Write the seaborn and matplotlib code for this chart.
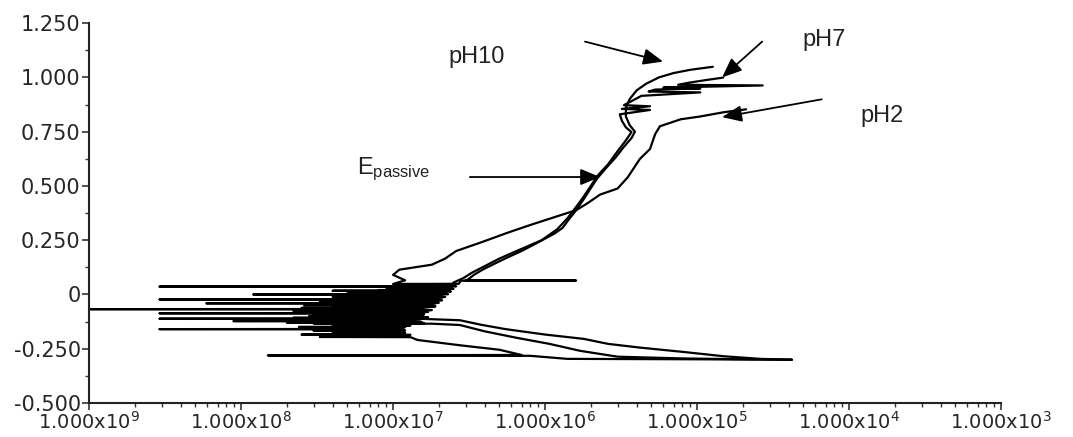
import pandas as pd
import seaborn as sns
import matplotlib.pyplot as plt
from matplotlib.ticker import LogLocator, NullFormatter, MultipleLocator

# potential (V) and current (A), in scan order (cathodic -> anodic)
# the short out-and-back spikes are the noisy points near the corrosion potential
ph10_E = [-0.301, -0.297, -0.285, -0.265, -0.245, -0.228, -0.205, -0.185, -0.160, -0.140, -0.119,
          -0.113, -0.112, -0.111, -0.105, -0.104, -0.103, -0.097, -0.096, -0.095,
          -0.088, -0.087, -0.086, -0.080, -0.079, -0.078, -0.072, -0.071, -0.070,
          -0.063, -0.062, -0.061, -0.055, -0.054, -0.053, -0.047, -0.046, -0.045,
          -0.038, -0.037, -0.036, -0.029, -0.028, -0.027, -0.020, -0.019, -0.018,
          -0.011, -0.010, -0.009, -0.001, 0.000, 0.001, 0.011, 0.012, 0.013,
          0.023, 0.024, 0.025, 0.035, 0.036, 0.037, 0.047, 0.048, 0.049,
          0.063, 0.064, 0.065, 0.068,
          0.090, 0.115, 0.140, 0.169, 0.200, 0.240, 0.280, 0.306, 0.350, 0.388, 0.440, 0.490,
          0.534, 0.580, 0.630, 0.680, 0.720, 0.750, 0.780, 0.820, 0.860, 0.900, 0.940, 0.970,
          1.000, 1.020, 1.035, 1.049]
ph10_I = [4.2e-5, 2.6e-5, 1.5e-5, 8.1e-6, 4.2e-6, 2.6e-6, 1.8e-6, 1.0e-6, 5.5e-7, 3.8e-7, 2.75e-7,
          1.6e-7, 2.9e-9, 1.5e-7, 1.7e-7, 4.0e-8, 1.3e-7, 1.5e-7, 3.0e-8, 1.4e-7,
          1.2e-7, 2.9e-9, 1.6e-7, 1.4e-7, 3.5e-8, 1.2e-7, 1.8e-7, 5.0e-8, 1.5e-7,
          1.3e-7, 2.5e-8, 1.6e-7, 1.9e-7, 4.0e-8, 1.4e-7, 1.7e-7, 3.0e-8, 1.8e-7,
          2.0e-7, 6.0e-8, 1.5e-7, 1.9e-7, 3.5e-8, 2.1e-7, 1.6e-7, 5.0e-8, 2.0e-7,
          2.2e-7, 4.0e-8, 1.8e-7, 2.1e-7, 7.0e-8, 2.3e-7, 2.0e-7, 5.0e-8, 2.4e-7,
          2.2e-7, 9.0e-8, 2.5e-7, 2.3e-7, 2.9e-9, 2.6e-7, 2.4e-7, 1.1e-7, 2.7e-7,
          2.8e-7, 1.6e-6, 3.0e-7, 3.1e-7,
          3.4e-7, 3.9e-7, 4.6e-7, 5.6e-7, 7.0e-7, 9.0e-7, 1.15e-6, 1.3e-6, 1.45e-6, 1.6e-6, 1.8e-6, 2.0e-6,
          2.2e-6, 2.5e-6, 2.9e-6, 3.3e-6, 3.7e-6, 3.9e-6, 3.6e-6, 3.4e-6, 3.4e-6, 3.6e-6, 4.0e-6, 4.6e-6,
          5.6e-6, 7.0e-6, 9.0e-6, 1.27e-5]

ph7_E = [-0.301, -0.299, -0.295, -0.287, -0.260, -0.228, -0.200, -0.170, -0.141,
         -0.135, -0.134, -0.133, -0.124, -0.123, -0.122, -0.117, -0.116, -0.115,
         -0.109, -0.108, -0.107, -0.100, -0.099, -0.098, -0.092, -0.091, -0.090,
         -0.083, -0.082, -0.081, -0.069, -0.068, -0.067, -0.059, -0.058, -0.057,
         -0.051, -0.050, -0.049, -0.042, -0.041, -0.040, -0.033, -0.032, -0.031,
         -0.024, -0.023, -0.022, -0.015, -0.014, -0.013, -0.006, -0.005, -0.004,
         0.007, 0.008, 0.009, 0.019, 0.020, 0.021, 0.031, 0.032, 0.033, 0.055,
         0.075, 0.100, 0.130, 0.165, 0.200, 0.250, 0.300, 0.350, 0.390, 0.440, 0.500, 0.545,
         0.600, 0.660, 0.710, 0.748, 0.770, 0.800, 0.830, 0.850, 0.855, 0.867, 0.872, 0.899,
         0.915, 0.931, 0.935, 0.944, 0.949, 0.953, 0.963, 0.966, 0.976, 0.988, 0.999]
ph7_I = [4.2e-5, 2.2e-5, 8.0e-6, 3.0e-6, 1.7e-6, 1.07e-6, 6.5e-7, 4.0e-7, 2.75e-7,
         1.8e-7, 3.0e-8, 1.6e-7, 1.5e-7, 8.9e-9, 1.3e-7, 1.4e-7, 4.5e-8, 1.2e-7,
         1.3e-7, 2.2e-8, 1.5e-7, 1.1e-7, 3.2e-8, 1.4e-7, 1.6e-7, 4.0e-8, 1.2e-7,
         1.5e-7, 2.8e-8, 1.7e-7, 1.3e-7, 6.0e-10, 1.4e-7, 1.6e-7, 4.0e-8, 1.3e-7,
         1.5e-7, 2.6e-8, 1.7e-7, 1.8e-7, 4.5e-8, 1.6e-7, 1.9e-7, 3.3e-8, 1.7e-7,
         1.6e-7, 2.9e-9, 1.8e-7, 2.0e-7, 4.5e-8, 1.7e-7, 1.9e-7, 5.5e-8, 2.1e-7,
         2.0e-7, 6.0e-8, 2.2e-7, 2.1e-7, 8.0e-8, 2.3e-7, 2.2e-7, 1.0e-7, 2.4e-7, 2.5e-7,
         2.9e-7, 3.3e-7, 4.0e-7, 5.0e-7, 6.5e-7, 9.5e-7, 1.2e-6, 1.4e-6, 1.55e-6, 1.75e-6, 2.0e-6, 2.2e-6,
         2.6e-6, 3.0e-6, 3.4e-6, 3.7e-6, 3.4e-6, 3.2e-6, 3.1e-6, 4.9e-6, 3.2e-6, 4.9e-6, 3.3e-6, 3.9e-6,
         4.3e-6, 1.05e-5, 4.8e-6, 5.3e-6, 1.05e-5, 6.0e-6, 2.7e-5, 7.5e-6, 8.9e-6, 1.15e-5, 1.48e-5]

ph2_E = [-0.301, -0.299, -0.297, -0.283, -0.281, -0.279, -0.255, -0.235, -0.210,
         -0.197, -0.196, -0.195, -0.186, -0.185, -0.184, -0.177, -0.176, -0.175,
         -0.168, -0.167, -0.166, -0.161, -0.160, -0.159, -0.151, -0.150, -0.149,
         -0.143, -0.142, -0.141, -0.131, -0.130, -0.129, -0.121, -0.120, -0.119,
         -0.110, -0.109, -0.108, -0.101, -0.100, -0.099, -0.093, -0.092, -0.091,
         -0.076, -0.075, -0.074, -0.066, -0.065, -0.064, -0.042, -0.041, -0.040,
         -0.026, -0.025, -0.024, -0.001, 0.000, 0.001, 0.016, 0.017, 0.018, 0.036, 0.048,
         0.065, 0.090, 0.114, 0.137, 0.165, 0.200, 0.240, 0.283, 0.320, 0.360, 0.388, 0.420,
         0.460, 0.488, 0.540, 0.624, 0.670, 0.739, 0.775, 0.807, 0.820, 0.839, 0.853]
ph2_I = [4.2e-5, 1.0e-5, 1.4e-6, 8.0e-7, 1.5e-8, 7.0e-7, 5.0e-7, 2.8e-7, 1.45e-7,
         1.3e-7, 3.3e-8, 1.2e-7, 1.3e-7, 2.5e-8, 1.1e-7, 1.2e-7, 4.0e-8, 1.0e-7,
         1.1e-7, 3.0e-8, 1.2e-7, 1.1e-7, 2.9e-9, 1.0e-7, 1.2e-7, 2.4e-8, 1.1e-7,
         1.3e-7, 4.0e-8, 1.0e-7, 1.2e-7, 2.0e-8, 1.1e-7, 1.3e-7, 3.5e-8, 1.2e-7,
         1.1e-7, 2.2e-8, 1.2e-7, 1.4e-7, 2.8e-8, 1.2e-7, 1.1e-7, 3.8e-8, 1.3e-7,
         1.2e-7, 2.2e-8, 1.1e-7, 1.3e-7, 3.6e-8, 1.2e-7, 1.3e-7, 5.9e-9, 1.4e-7,
         1.4e-7, 3.0e-8, 1.3e-7, 1.5e-7, 1.2e-8, 1.4e-7, 1.5e-7, 4.0e-8, 1.6e-7, 1.5e-7, 1.0e-7,
         1.2e-7, 1.0e-7, 1.1e-7, 1.8e-7, 2.2e-7, 2.6e-7, 3.8e-7, 5.6e-7, 8.0e-7, 1.2e-6, 1.6e-6, 1.9e-6,
         2.3e-6, 3.0e-6, 3.5e-6, 4.2e-6, 4.9e-6, 5.3e-6, 5.7e-6, 7.8e-6, 1.05e-5, 1.48e-5, 2.1e-5]

x_ticks = [1e-9, 1e-8, 1e-7, 1e-6, 1e-5, 1e-4, 1e-3]
x_labels = [r'$\mathregular{1.000x10^{9}}$', r'$\mathregular{1.000x10^{8}}$',
            r'$\mathregular{1.000x10^{7}}$', r'$\mathregular{1.000x10^{6}}$',
            r'$\mathregular{1.000x10^{5}}$', r'$\mathregular{1.000x10^{4}}$',
            r'$\mathregular{1.000x10^{3}}$']
y_ticks = [-0.5, -0.25, 0, 0.25, 0.5, 0.75, 1.0, 1.25]
y_labels = ['-0.500', '-0.250', '0', '0.250', '0.500', '0.750', '1.000', '1.250']

df = pd.concat([
    pd.DataFrame({'E': ph10_E, 'I': ph10_I, 'curve': 'pH10'}),
    pd.DataFrame({'E': ph7_E, 'I': ph7_I, 'curve': 'pH7'}),
    pd.DataFrame({'E': ph2_E, 'I': ph2_I, 'curve': 'pH2'}),
], ignore_index=True)

sns.set_style('ticks')
plt.rcParams['font.family'] = ['DejaVu Sans']

fig = plt.figure(figsize=(10.73, 4.37), dpi=100)
ax = fig.add_axes([0.083, 0.078, 0.850, 0.869])
ax.set_xscale('log')
sns.lineplot(data=df, x='I', y='E', units='curve', estimator=None, sort=False,
             color='black', lw=1.6, ax=ax)

ax.set_xlim(1e-9, 1e-3)
ax.set_ylim(-0.5, 1.25)
ax.set_xticks(x_ticks)
ax.set_xticklabels(x_labels)
ax.xaxis.set_minor_locator(LogLocator(base=10, subs=range(2, 10)))
ax.xaxis.set_minor_formatter(NullFormatter())
ax.set_yticks(y_ticks)
ax.set_yticklabels(y_labels)
ax.yaxis.set_minor_locator(MultipleLocator(0.125))
ax.set_xlabel('')
ax.set_ylabel('')
ax.tick_params(axis='both', which='major', length=5, width=1.2, color='#333333')
ax.tick_params(axis='x', which='major', labelsize=14, pad=0.5)
ax.tick_params(axis='y', which='major', labelsize=15, pad=1)
ax.tick_params(axis='both', which='minor', length=3, width=1.0, color='#333333')
sns.despine(ax=ax)
for s in ['left', 'bottom']:
    ax.spines[s].set_linewidth(1.5)
    ax.spines[s].set_color('#222222')

arrow = dict(arrowstyle='-|>,head_length=0.6,head_width=0.25', mutation_scale=20,
             lw=1.3, color='black', shrinkA=0, shrinkB=0)
ax.annotate('', xy=(5.97e-6, 1.073), xytext=(1.83e-6, 1.165), arrowprops=arrow)
ax.annotate('', xy=(1.46e-5, 1.0), xytext=(2.68e-5, 1.165), arrowprops=arrow)
ax.annotate('', xy=(1.46e-5, 0.817), xytext=(6.6e-5, 0.899), arrowprops=arrow)
ax.annotate('', xy=(2.3e-6, 0.541), xytext=(3.2e-7, 0.541), arrowprops=arrow)

lab = dict(fontsize=17, family='Liberation Sans', color='#222222')
ax.text(2.3e-7, 1.096, 'pH10', ha='left', va='center', **lab)
ax.text(4.9e-5, 1.174, 'pH7', ha='left', va='center', **lab)
ax.text(1.18e-4, 0.821, 'pH2', ha='left', va='center', **lab)
ax.text(5.8e-8, 0.555, r'$\mathregular{E_{passive}}$', ha='left', va='baseline', **lab)

fig.savefig('out.png', dpi=100)
